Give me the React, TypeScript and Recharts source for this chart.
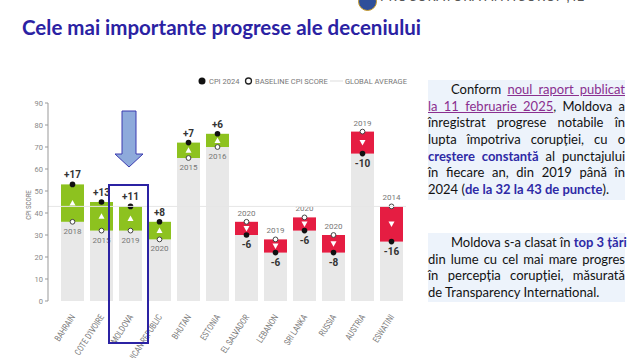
import React from "react";
import { ComposedChart, Bar, XAxis, YAxis, ReferenceLine } from "recharts";

const countries = [
  "BAHRAIN",
  "COTE D'IVOIRE",
  "MOLDOVA",
  "DOMINICAN REPUBLIC",
  "BHUTAN",
  "ESTONIA",
  "EL SALVADOR",
  "LEBANON",
  "SRI LANKA",
  "RUSSIA",
  "AUSTRIA",
  "ESWATINI",
];
const cpi2024 = [53, 45, 43, 36, 72, 76, 30, 22, 32, 22, 67, 27];
const baselineScore = [36, 32, 32, 28, 65, 70, 36, 28, 38, 30, 77, 43];
const baselineYear = [2018, 2015, 2019, 2020, 2015, 2016, 2020, 2019, 2020, 2020, 2019, 2014];
const yTicks = [0, 10, 20, 30, 40, 50, 60, 70, 80, 90];
const globalAverage = 43;

const GREEN = "#8dc21f";
const RED = "#e51d42";
const GREY_BAR = "#e8e8e8";
const TITLE_BLUE = "#2b22a3";
const TEXT_BLUE = "#2e2aa6";
const LINK = "#8a2f8f";

const data = countries.map((country, i) => ({
  country,
  cpi: cpi2024[i],
  baseline: baselineScore[i],
  year: baselineYear[i],
  up: cpi2024[i] >= baselineScore[i],
  base: Math.min(cpi2024[i], baselineScore[i]),
  change: Math.abs(cpi2024[i] - baselineScore[i]),
}));

function ChangeShape(props: any) {
  const { x, y, width, height, payload } = props;
  const cx = x + width / 2;
  const top = y;
  const bottom = y + height;
  const mid = y + height / 2;
  const diff = payload.cpi - payload.baseline;
  const label = diff > 0 ? `+${diff}` : `${diff}`;
  const tri = payload.up
    ? `${cx - 3},${mid + 2.5} ${cx + 3},${mid + 2.5} ${cx},${mid - 3}`
    : `${cx - 3},${mid - 2.5} ${cx + 3},${mid - 2.5} ${cx},${mid + 3}`;
  const cpiY = payload.up ? top : bottom;
  const baseY = payload.up ? bottom : top;
  return (
    <g>
      <rect x={x} y={top} width={width} height={height} fill={payload.up ? GREEN : RED} />
      <polygon points={tri} fill="#fff" />
      <circle cx={cx} cy={cpiY} r={2.8} fill="#111" />
      <circle cx={cx} cy={baseY} r={2.4} fill="#fff" stroke="#444" strokeWidth={1} />
      {payload.up ? (
        <>
          <text x={cx} y={top - 6} textAnchor="middle" fontSize={10} fontWeight={700} fill="#333" fontFamily="Roboto">
            {label}
          </text>
          <text x={cx} y={bottom + 12} textAnchor="middle" fontSize={8} fill="#777" fontFamily="Roboto">
            {payload.year}
          </text>
        </>
      ) : (
        <>
          <text x={cx} y={top - 6} textAnchor="middle" fontSize={8} fill="#777" fontFamily="Roboto">
            {payload.year}
          </text>
          <text x={cx} y={bottom + 13} textAnchor="middle" fontSize={10} fontWeight={700} fill="#333" fontFamily="Roboto">
            {label}
          </text>
        </>
      )}
    </g>
  );
}

function CountryTick(props: any) {
  const { x, y, payload } = props;
  return (
    <g transform={`translate(${x + 3},${y + 8}) rotate(-57)`}>
      <text textAnchor="end" transform="scale(0.78,1)" fontSize={9} fill="#777" fontFamily="Roboto">
        {payload.value}
      </text>
    </g>
  );
}

const Line = ({ children, last, indent }: { children: React.ReactNode; last?: boolean; indent?: boolean }) => (
  <div
    style={{
      height: 16.7,
      lineHeight: "16.7px",
      whiteSpace: "nowrap",
      textAlign: "justify",
      textAlignLast: last ? "left" : "justify",
      textIndent: indent ? 23 : 0,
    }}
  >
    {children}
  </div>
);

const B = ({ children }: { children: React.ReactNode }) => (
  <span style={{ color: TEXT_BLUE, fontWeight: 700 }}>{children}</span>
);
const U = ({ children }: { children: React.ReactNode }) => (
  <span style={{ color: LINK, textDecoration: "underline" }}>{children}</span>
);

export default function App() {
  return (
    <div
      style={{
        position: "absolute",
        left: 0,
        top: 0,
        width: 635,
        height: 358,
        overflow: "hidden",
        background: "#fff",
        fontFamily: "Lato",
      }}
    >
      {/* header */}
      <div style={{ position: "absolute", left: 358, top: -8, width: 17, height: 17, borderRadius: "50%", background: "#2f4f9a", border: "1px solid #c79a2a" }} />
      <div style={{ position: "absolute", left: 380, top: -12, fontSize: 13, color: "#555", letterSpacing: 0.6, whiteSpace: "nowrap" }}>
        PROCURATURA ANTICORUPȚIE
      </div>
      <div
        style={{
          position: "absolute",
          left: 22,
          top: 15,
          fontSize: 20.5,
          fontWeight: 700,
          color: TITLE_BLUE,
          whiteSpace: "nowrap",
        }}
      >
        Cele mai importante progrese ale deceniului
      </div>

      {/* chart */}
      <div style={{ position: "absolute", left: 0, top: 0 }}>
        <ComposedChart width={420} height={358} data={data} margin={{ top: 103, right: 14, bottom: 0, left: 0 }}>
          <XAxis
            dataKey="country"
            interval={0}
            height={57}
            axisLine={false}
            tickLine={false}
            padding={{ left: 10, right: 0 }}
            tick={<CountryTick />}
          />
          <YAxis
            width={48}
            domain={[0, 90]}
            ticks={yTicks}
            tickSize={3}
            axisLine={{ stroke: "#999" }}
            tickLine={{ stroke: "#999" }}
            tick={{ fontSize: 7.5, fill: "#888", fontFamily: "Roboto" }}
          />
          <Bar dataKey="base" stackId="a" fill={GREY_BAR} barSize={23} isAnimationActive={false} />
          <Bar dataKey="change" stackId="a" barSize={23} shape={<ChangeShape />} isAnimationActive={false} />
          <ReferenceLine y={globalAverage} stroke="#e6e6e6" strokeWidth={1} />
        </ComposedChart>
      </div>

      {/* legend */}
      <svg style={{ position: "absolute", left: 0, top: 0 }} width={635} height={358} pointerEvents="none">
        <g fontFamily="Roboto" fontSize={7.5} fill="#777">
          <circle cx={202} cy={81} r={3.5} fill="#111" />
          <text x={209} y={83.5}>CPI 2024</text>
          <circle cx={248.5} cy={81} r={3} fill="#fff" stroke="#222" strokeWidth={1.3} />
          <text x={255} y={83.5}>BASELINE CPI SCORE</text>
          <line x1={330} x2={343} y1={81} y2={81} stroke="#ddd" />
          <text x={345} y={83.5}>GLOBAL AVERAGE</text>
          <text transform="translate(31,205) rotate(-90) scale(0.8,1)" textAnchor="middle" fontSize={7.5}>
            CPI SCORE
          </text>
        </g>
        {/* Moldova highlight */}
        <rect x={109} y={185} width={39} height={158} fill="none" stroke="#2b22a3" strokeWidth={2} />
        <polygon
          points="122,111 136,111 136,154 143,154 129,167 115,154 122,154"
          fill="#8eaadb"
          stroke="#3b3bb0"
          strokeWidth={1}
        />
      </svg>

      {/* text boxes */}
      <div style={{ position: "absolute", left: 428, top: 80, width: 197, height: 120, background: "#edf3fb", fontSize: 13, color: "#111" }}>
        <div style={{ paddingTop: 1 }}>
          <Line indent>
            Conform <U>noul raport publicat</U>
          </Line>
          <Line>
            <U>la 11 februarie 2025</U>, Moldova a
          </Line>
          <Line>înregistrat progrese notabile în</Line>
          <Line>lupta împotriva corupției, cu o</Line>
          <Line>
            <B>creștere constantă</B> al punctajului
          </Line>
          <Line>în fiecare an, din 2019 până în</Line>
          <Line last>
            2024 (<B>de la 32 la 43 de puncte</B>).
          </Line>
        </div>
      </div>
      <div style={{ position: "absolute", left: 428, top: 233, width: 197, height: 69, background: "#edf3fb", fontSize: 13, color: "#111" }}>
        <div style={{ paddingTop: 1 }}>
          <Line indent>
            Moldova s-a clasat în <B>top 3 țări</B>
          </Line>
          <Line>din lume cu cel mai mare progres</Line>
          <Line>în percepția corupției, măsurată</Line>
          <Line last>de Transparency International.</Line>
        </div>
      </div>
    </div>
  );
}
